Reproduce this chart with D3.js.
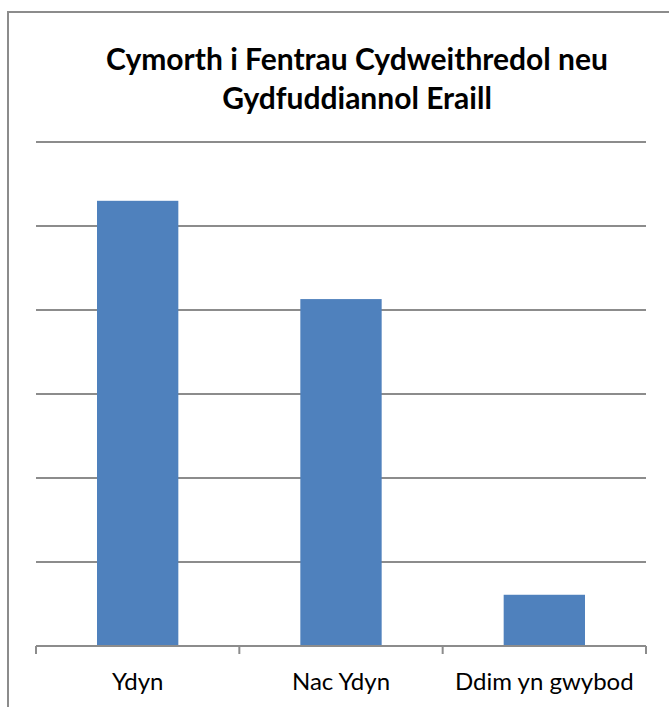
<!DOCTYPE html>
<html>
<head>
<meta charset="utf-8">
<script src="https://cdn.jsdelivr.net/npm/d3@7"></script>
<style>
  body { margin: 0; background: #fff; }
  svg { display: block; font-family: Lato, "Open Sans", sans-serif; }
</style>
</head>
<body>
<svg id="chart" width="669" height="707"></svg>
<script>
// data
var categories = ["Ydyn", "Nac Ydyn", "Ddim yn gwybod"];
var values = [53, 41.3, 6.1];
var yTicks = [0, 10, 20, 30, 40, 50, 60];
var titleLines = ["Cymorth i Fentrau Cydweithredol neu", "Gydfuddiannol Eraill"];

var svg = d3.select("#chart");

// ffrâm (dim ond top a chwith yn y llun)
svg.append("path")
	.attr("d", "M8,707 L8,12 L669,12")
	.attr("fill", "none")
	.attr("stroke", "#8c8c8c")
	.attr("stroke-width", 2);

var plotLeft = 36, plotRight = 646, plotTop = 142, plotBottom = 646;

var x = d3.scaleBand()
	.domain(categories)
	.range([plotLeft, plotRight])
	.paddingInner(0.6)
	.paddingOuter(0.3);

var y = d3.scaleLinear()
	.domain([0, 60])
	.range([plotBottom, plotTop]);

// gridlines
svg.append("g")
	.selectAll("line")
	.data(yTicks.slice(1))
	.enter()
	.append("line")
	.attr("x1", plotLeft)
	.attr("x2", plotRight)
	.attr("y1", function(d){ return y(d); })
	.attr("y2", function(d){ return y(d); })
	.attr("stroke", "#8c8c8c")
	.attr("stroke-width", 2);

// bars
svg.append("g")
	.selectAll("rect")
	.data(values)
	.enter()
	.append("rect")
	.attr("x", function(d, i){ return x(categories[i]); })
	.attr("width", x.bandwidth())
	.attr("y", function(d){ return y(d); })
	.attr("height", function(d){ return plotBottom - y(d); })
	.attr("fill", "#4f81bd");

// x axis
var axis = svg.append("g");
axis.append("line")
	.attr("x1", plotLeft).attr("x2", plotRight)
	.attr("y1", plotBottom).attr("y2", plotBottom)
	.attr("stroke", "#8c8c8c")
	.attr("stroke-width", 2);
axis.selectAll("line.tick")
	.data(d3.range(categories.length + 1))
	.enter()
	.append("line")
	.attr("class", "tick")
	.attr("x1", function(i){ return plotLeft + i * x.step(); })
	.attr("x2", function(i){ return plotLeft + i * x.step(); })
	.attr("y1", plotBottom)
	.attr("y2", plotBottom + 8)
	.attr("stroke", "#8c8c8c")
	.attr("stroke-width", 2);
axis.selectAll("text")
	.data(categories)
	.enter()
	.append("text")
	.attr("x", function(d){ return x(d) + x.bandwidth() / 2; })
	.attr("y", 690)
	.attr("text-anchor", "middle")
	.attr("font-size", "24px")
	.attr("fill", "#000")
	.text(function(d){ return d; });

// title
svg.append("g")
	.selectAll("text")
	.data(titleLines)
	.enter()
	.append("text")
	.attr("x", 357)
	.attr("y", function(d, i){ return 70 + i * 39; })
	.attr("text-anchor", "middle")
	.attr("font-size", "30px")
	.attr("font-weight", "bold")
	.attr("fill", "#000")
	.text(function(d){ return d; });
</script>
</body>
</html>
